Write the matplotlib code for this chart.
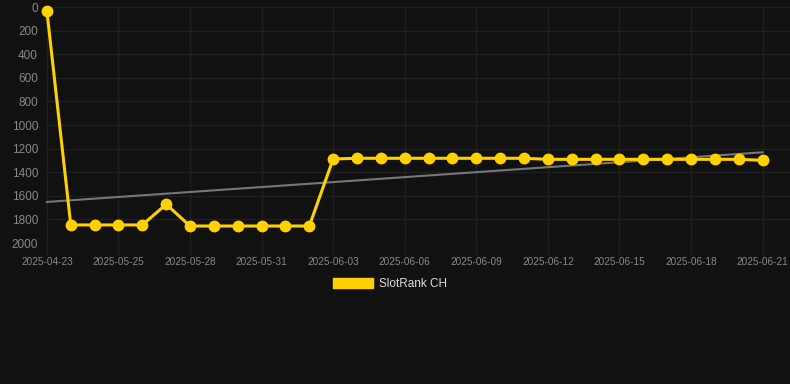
import numpy as np
import matplotlib
matplotlib.use("Agg")
import matplotlib.pyplot as plt
from matplotlib.patches import Patch

# dates on the x axis (one point per day, first point is an older sample)
dates = ["2025-04-23", "2025-05-23", "2025-05-24", "2025-05-25", "2025-05-26", "2025-05-27",
         "2025-05-28", "2025-05-29", "2025-05-30", "2025-05-31", "2025-06-01", "2025-06-02",
         "2025-06-03", "2025-06-04", "2025-06-05", "2025-06-06", "2025-06-07", "2025-06-08",
         "2025-06-09", "2025-06-10", "2025-06-11", "2025-06-12", "2025-06-13", "2025-06-14",
         "2025-06-15", "2025-06-16", "2025-06-17", "2025-06-18", "2025-06-19", "2025-06-20",
         "2025-06-21"]

# rank values
ranks = [35, 1847, 1847, 1847, 1847, 1672, 1856, 1856, 1856, 1856, 1856, 1856,
         1288, 1282, 1282, 1282, 1282, 1282, 1282, 1282, 1282, 1291, 1291, 1291,
         1291, 1291, 1291, 1291, 1291, 1291, 1299]

y_ticks = [0, 200, 400, 600, 800, 1000, 1200, 1400, 1600, 1800, 2000]
series_name = "SlotRank CH"

bg = "#111111"
grid_col = "#1f1f1f"
yellow = "#FFD100"

plt.rcParams['font.family'] = ['Liberation Sans', 'DejaVu Sans']

fig = plt.figure(figsize=(7.9, 3.84), dpi=100, facecolor=bg)
ax = fig.add_axes([45 / 790, 1 - 243 / 384, (790 - 45) / 790, (243 - 7) / 384])
ax.set_facecolor(bg)

x = np.arange(len(dates))
y = np.array(ranks)

# linear trend through the data
slope, intercept = np.polyfit(x, y, deg=1)
ax.plot(x, intercept + slope * x, color="#777777", linewidth=1.5, zorder=2)

ax.plot(x, y, color=yellow, linewidth=2.2, marker='o', markersize=7.5,
        markerfacecolor=yellow, markeredgecolor=yellow, zorder=3, clip_on=False)

ax.set_ylim(2000, 0)
ax.set_xlim(-0.08, 31.15)
ax.set_yticks(y_ticks)
ax.set_yticklabels([str(v) for v in y_ticks])

label_idx = x[::3]
ax.set_xticks(label_idx)
ax.set_xticklabels([dates[i] for i in label_idx])

ax.grid(True, color=grid_col, linewidth=1)
ax.tick_params(axis='y', length=0, pad=5, labelsize=8.5, labelcolor="#888888")
ax.tick_params(axis='x', length=8, width=1, color=grid_col, pad=2, labelsize=7.2,
               labelcolor="#888888")
for s in ax.spines.values():
    s.set_visible(False)

handle = Patch(facecolor=yellow, edgecolor=yellow)
fig.legend([handle], [series_name], loc='center', bbox_to_anchor=(390 / 790, 1 - 284 / 384),
           frameon=False, fontsize=8.5, labelcolor="#dddddd", handlelength=3.4,
           handleheight=1.0, handletextpad=0.5)

fig.savefig("out.png", dpi=100, facecolor=bg)
